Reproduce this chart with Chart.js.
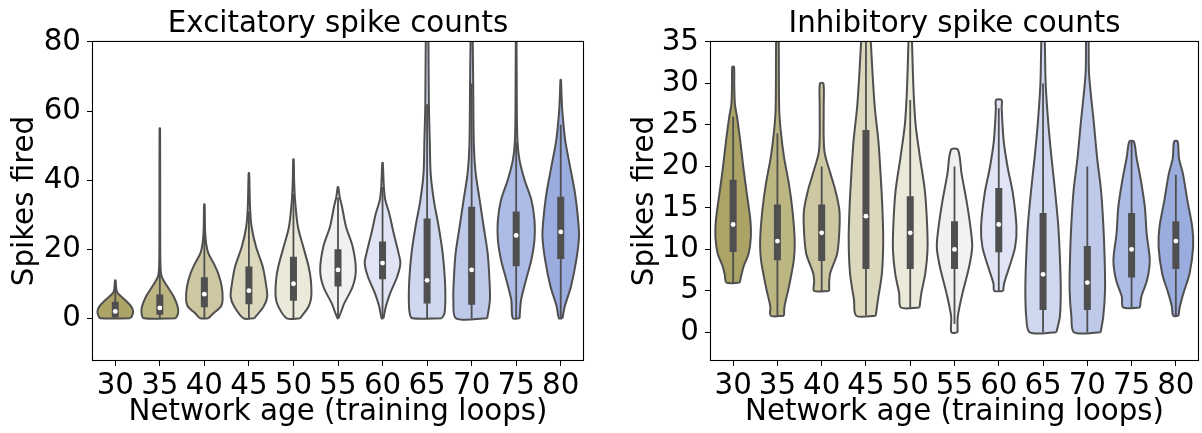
<!DOCTYPE html>
<html>
<head>
<meta charset="utf-8">
<script src="https://cdn.jsdelivr.net/npm/chart.js@4.4.0/dist/chart.umd.min.js"></script>
<style>
  html, body { margin: 0; padding: 0; background: #fff; }
  #wrap { display: flex; width: 1202px; height: 433px; }
  .panel { width: 601px; height: 433px; }
</style>
</head>
<body>
<div id="wrap">
  <div class="panel"><canvas id="exc" width="601" height="433"></canvas></div>
  <div class="panel"><canvas id="inh" width="601" height="433"></canvas></div>
</div>
<script>
const ages = [30, 35, 40, 45, 50, 55, 60, 65, 70, 75, 80];
const excTicks = [0, 20, 40, 60, 80];
const inhTicks = [0, 5, 10, 15, 20, 25, 30, 35];

// violin outlines: [spikes, half width as a share of one category]
const excProfiles = [
  [[0, 0.33], [0.5, 0.37], [1.9, 0.40], [3.4, 0.36], [5.3, 0.22], [7.2, 0.06], [8.3, 0.025], [11, 0.006]],
  [[0, 0.36], [1.4, 0.41], [3.4, 0.40], [6.3, 0.31], [9.2, 0.17], [12, 0.045], [15, 0.015], [30, 0.008], [55, 0.006]],
  [[0, 0.09], [1.4, 0.2], [3.4, 0.37], [5.3, 0.41], [9.2, 0.39], [13, 0.31], [15.9, 0.21], [18.8, 0.09], [21.7, 0.04], [26, 0.015], [33, 0.006]],
  [[0, 0.12], [3.4, 0.33], [6.3, 0.41], [10.1, 0.38], [15, 0.31], [20.7, 0.16], [26.5, 0.06], [32.3, 0.025], [42, 0.006]],
  [[0, 0.15], [3.4, 0.34], [6.3, 0.40], [11.1, 0.39], [15, 0.34], [20.7, 0.22], [26.5, 0.10], [34.3, 0.035], [40, 0.015], [46, 0.006]],
  [[0, 0.01], [1.9, 0.07], [4.3, 0.14], [9.2, 0.33], [14, 0.40], [20.7, 0.33], [26.5, 0.18], [32.3, 0.09], [35, 0.04], [38, 0.006]],
  [[0, 0.02], [3.4, 0.075], [7.2, 0.17], [12.1, 0.33], [15.9, 0.40], [18.8, 0.36], [24.6, 0.25], [30.4, 0.15], [34.3, 0.06], [38, 0.03], [45, 0.006]],
  [[0, 0.33], [1.4, 0.39], [5.3, 0.41], [11.1, 0.40], [18.8, 0.35], [26.5, 0.26], [34.3, 0.15], [42, 0.08], [51.6, 0.06], [62, 0.04], [80, 0.03], [95, 0.006]],
  [[0, 0.35], [5.3, 0.41], [11.1, 0.40], [18.8, 0.36], [26.5, 0.27], [34.3, 0.18], [42, 0.09], [50, 0.05], [68, 0.035], [85, 0.02], [95, 0.006]],
  [[0, 0.075], [5.3, 0.11], [11.1, 0.22], [16.9, 0.34], [22.7, 0.41], [28.5, 0.41], [34.3, 0.34], [40, 0.19], [45.8, 0.075], [51, 0.03], [60, 0.015], [85, 0.006]],
  [[0, 0.04], [3.4, 0.09], [9.2, 0.23], [16.9, 0.35], [23.6, 0.41], [28.5, 0.39], [36.2, 0.32], [43.9, 0.21], [51.6, 0.10], [59.3, 0.04], [64, 0.02], [69, 0.006]]
];
const excQ1 = [0.3, 1, 3.2, 4.1, 5.1, 9.2, 11.3, 4.3, 3.9, 15.1, 17.2];
const excMedian = [2, 3, 7, 8, 10, 14, 16, 11, 14, 24, 25];
const excQ3 = [4.8, 6.9, 11.9, 15, 17.8, 20, 22.2, 28.9, 32.3, 30.9, 35.2];
const excLow = [0, 0, 0, 0, 0, 0, 0, 0, 0, 0, 0];
const excHigh = [11, 15, 24, 31, 36, 35, 38, 62, 68, 51, 56];

const inhProfiles = [
  [[6, 0.15], [7, 0.19], [8, 0.24], [9.5, 0.35], [11.5, 0.40], [13.5, 0.39], [16.7, 0.31], [19.9, 0.23], [23.1, 0.16], [25.9, 0.09], [27.5, 0.04], [30, 0.025], [32, 0.02]],
  [[2, 0.15], [3.1, 0.16], [5.5, 0.26], [8.7, 0.37], [11.1, 0.39], [14.7, 0.34], [17.9, 0.26], [21.1, 0.15], [24.3, 0.075], [27, 0.04], [35, 0.03], [40, 0.01]],
  [[5, 0.17], [6.1, 0.17], [7.1, 0.19], [9.5, 0.35], [12.3, 0.40], [14.7, 0.40], [17.1, 0.31], [19.1, 0.2], [21.9, 0.06], [27.1, 0.045], [30, 0.04]],
  [[2, 0.22], [3.9, 0.27], [7.1, 0.36], [11.1, 0.39], [15.1, 0.37], [19.1, 0.33], [23.1, 0.28], [27.1, 0.2], [31.1, 0.15], [35, 0.11], [40, 0.06], [45, 0.01]],
  [[3, 0.21], [4.7, 0.25], [7.1, 0.34], [9.9, 0.39], [13.1, 0.38], [17.1, 0.33], [21.1, 0.22], [25.1, 0.12], [29.1, 0.075], [35, 0.04], [40, 0.01]],
  [[0, 0.07], [1.9, 0.075], [4.7, 0.18], [7.9, 0.33], [10.3, 0.40], [12.7, 0.36], [15.9, 0.27], [19.1, 0.16], [22, 0.08]],
  [[5, 0.1], [5.9, 0.12], [7.9, 0.24], [10.3, 0.37], [12.7, 0.40], [16.7, 0.32], [19.9, 0.2], [23.1, 0.11], [27.1, 0.065], [28, 0.065]],
  [[0, 0.30], [1.9, 0.38], [5.1, 0.40], [9.1, 0.38], [13.1, 0.34], [17.1, 0.27], [21.1, 0.19], [25.1, 0.12], [29.9, 0.06], [35, 0.04], [40, 0.01]],
  [[0, 0.30], [1.9, 0.36], [5.1, 0.40], [9.1, 0.39], [13.1, 0.36], [17.1, 0.31], [21.1, 0.22], [25.1, 0.15], [31.1, 0.04], [35, 0.03], [40, 0.01]],
  [[3, 0.19], [4.3, 0.22], [6.3, 0.35], [8.7, 0.41], [11.9, 0.34], [15.1, 0.30], [18.3, 0.21], [21.1, 0.11], [23, 0.05]],
  [[2, 0.06], [3.1, 0.09], [4.7, 0.17], [7.1, 0.31], [10.3, 0.39], [12.7, 0.37], [15.9, 0.26], [19.1, 0.16], [21, 0.07], [23, 0.04]]
];
const inhQ1 = [9.7, 8.7, 8.6, 7.65, 7.65, 7.65, 9.65, 2.7, 2.7, 6.6, 7.65];
const inhMedian = [13, 11, 12, 14, 12, 10, 13, 7, 6, 10, 11];
const inhQ3 = [18.4, 15.4, 15.4, 24.4, 16.4, 13.4, 17.4, 14.4, 10.4, 14.4, 13.4];
const inhLow = [6, 2, 5, 2, 3, 1, 5, 0, 0, 3, 2];
const inhHigh = [26, 24, 20, 40, 28, 20, 27, 30, 20, 23, 19];

const palette = ['#aca366', '#bcb683', '#cdc8a1', '#dcd8bd', '#ebe9d9', '#f1f1f1',
                 '#e0e4f4', '#d0d8f0', '#bfcaeb', '#adbce6', '#9badde'];
const EDGE = '#4f4f4f';
const FONT = { family: 'DejaVu Sans', size: 29.3, weight: 'normal' };
const CAT = 5; // one category on the age axis

function violinSets(profiles, q1, med, q3, lo, hi) {
  const sets = [];
  sets.push({
    data: ages.map((a, i) => ({ x: a, y: med[i] })),
    showLine: false, pointRadius: 2.4, pointBackgroundColor: '#fff', pointBorderWidth: 0, order: 0
  });
  const box = [], whisk = [];
  ages.forEach((a, i) => {
    box.push({ x: a, y: q1[i] }, { x: a, y: q3[i] }, { x: a, y: null });
    whisk.push({ x: a, y: lo[i] }, { x: a, y: hi[i] }, { x: a, y: null });
  });
  sets.push({ data: box, borderColor: EDGE, borderWidth: 7, pointRadius: 0, order: 1 });
  sets.push({ data: whisk, borderColor: EDGE, borderWidth: 1.8, pointRadius: 0, order: 2 });
  profiles.forEach((prof, i) => {
    const a = ages[i];
    const right = prof.map(([v, w]) => ({ x: a + w * CAT, y: v }));
    const left = prof.slice().reverse().map(([v, w]) => ({ x: a - w * CAT, y: v }));
    sets.push({
      data: right.concat(left, [right[0]]),
      fill: 'shape', backgroundColor: palette[i], borderColor: EDGE, borderWidth: 2,
      borderJoinStyle: 'round', pointRadius: 0, tension: 0.3, order: 3
    });
  });
  return sets;
}

const framePlugin = {
  id: 'frame',
  afterDraw(chart) {
    const { ctx, chartArea: a } = chart;
    ctx.save();
    ctx.strokeStyle = '#000';
    ctx.lineWidth = 1.1;
    ctx.strokeRect(a.left - 0.5, a.top - 0.5, a.right - a.left + 1, a.bottom - a.top + 1);
    ctx.restore();
  }
};

function makeChart(id, title, sets, yMin, yMax, yTicks, yWidth, padRight, yTitlePad) {
  return new Chart(document.getElementById(id), {
    type: 'line',
    data: { datasets: sets },
    options: {
      responsive: false, animation: false, devicePixelRatio: 1, events: [],
      layout: { padding: { left: 0, right: padRight, top: 0, bottom: 0 } },
      datasets: { line: { clip: 0 } },
      plugins: {
        legend: { display: false },
        tooltip: { enabled: false },
        title: { display: true, text: title, color: '#000', font: FONT, fullSize: false,
                 padding: { top: 6.8, bottom: 0 } }
      },
      scales: {
        x: {
          type: 'linear', min: 27.5, max: 82.5,
          afterBuildTicks: s => { s.ticks = ages.map(v => ({ value: v })); },
          afterFit: s => { s.height = 73; },
          grid: { drawOnChartArea: false, color: '#000', tickLength: 6 },
          border: { display: false },
          ticks: { color: '#000', font: FONT, padding: 3, maxRotation: 0, autoSkip: false },
          title: { display: true, text: 'Network age (training loops)', color: '#000', font: FONT,
                   padding: { top: 0, bottom: 2.7 } }
        },
        y: {
          type: 'linear', min: yMin, max: yMax,
          afterBuildTicks: s => { s.ticks = yTicks.map(v => ({ value: v })); },
          afterFit: s => { s.width = yWidth; },
          grid: { drawOnChartArea: false, color: '#000', tickLength: 6 },
          border: { display: false },
          ticks: { color: '#000', font: FONT, padding: 6 },
          title: { display: true, text: 'Spikes fired', color: '#000', font: FONT,
                   padding: { top: yTitlePad, bottom: 0 } }
        }
      }
    },
    plugins: [framePlugin]
  });
}

makeChart('exc', 'Excitatory spike counts',
  violinSets(excProfiles, excQ1, excMedian, excQ3, excLow, excHigh),
  -12.07, 80, excTicks, 93, 18, 8.1);
makeChart('inh', 'Inhibitory spike counts',
  violinSets(inhProfiles, inhQ1, inhMedian, inhQ3, inhLow, inhHigh),
  -3.33, 35, inhTicks, 110, 1, 27.1);
</script>
</body>
</html>
